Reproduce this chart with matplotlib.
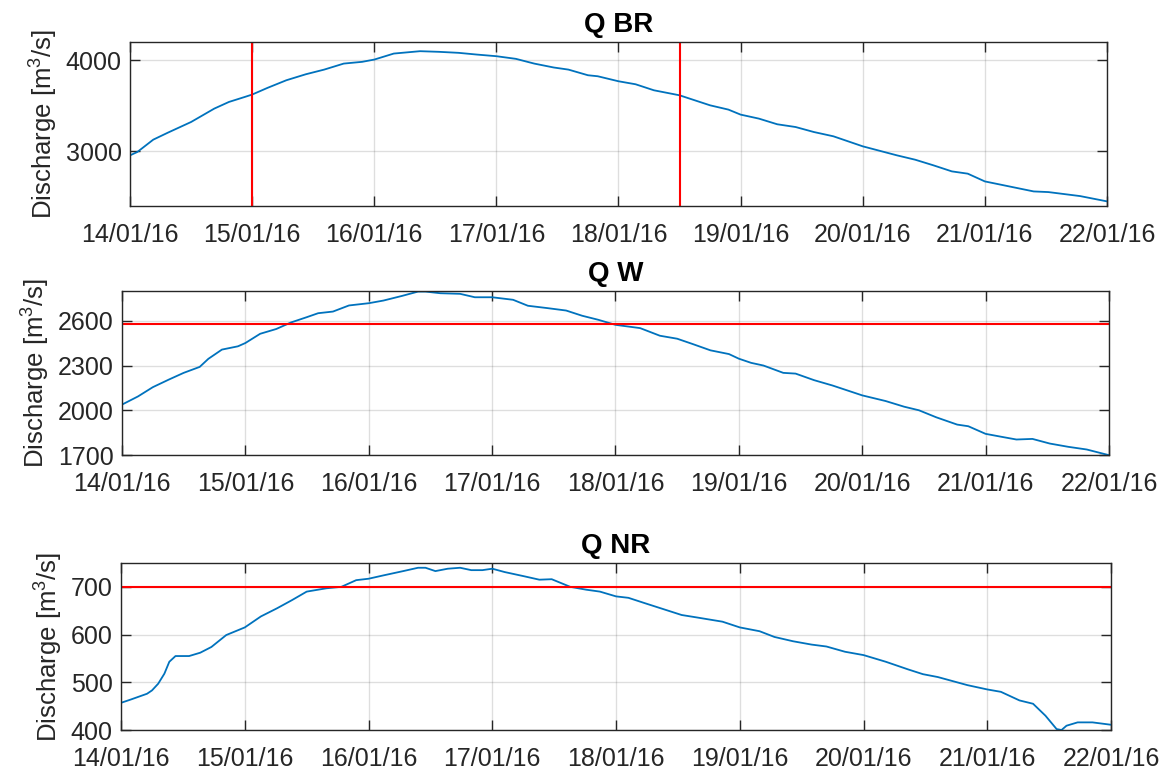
import datetime

import matplotlib
matplotlib.use('Agg')
import matplotlib.pyplot as plt
import matplotlib.dates as mdates
import numpy as np

# days since 14/01/16 00:00 and discharge values
br_days = [0.0, 0.06, 0.19, 0.31, 0.5, 0.69, 0.81, 0.94, 1.0, 1.125, 1.28, 1.44, 1.59,
           1.75, 1.9, 2.0, 2.16, 2.375, 2.53, 2.69, 2.84, 3.0, 3.16, 3.31, 3.47, 3.59,
           3.75, 3.83, 4.0, 4.14, 4.29, 4.5, 4.75, 4.9, 5.0, 5.15, 5.3, 5.45, 5.6, 5.76,
           6.0, 6.28, 6.43, 6.58, 6.73, 6.86, 7.0, 7.16, 7.4, 7.52, 7.78, 8.0]
br_q = [2956, 2993, 3128, 3205, 3322, 3469, 3542, 3597, 3623, 3696, 3780, 3846, 3897,
        3963, 3982, 4007, 4073, 4099, 4092, 4081, 4062, 4044, 4015, 3963, 3920, 3897,
        3835, 3824, 3769, 3736, 3670, 3615, 3505, 3458, 3403, 3359, 3297, 3267, 3212, 3165,
        3055, 2956, 2908, 2846, 2780, 2755, 2670, 2626, 2560, 2553, 2509, 2451]

w_days = [0.0, 0.13, 0.25, 0.38, 0.5, 0.63, 0.7, 0.81, 0.94, 1.0, 1.12, 1.25, 1.37, 1.5,
          1.59, 1.71, 1.84, 2.0, 2.12, 2.27, 2.4, 2.46, 2.58, 2.74, 2.86, 3.0, 3.17, 3.29,
          3.45, 3.6, 3.73, 3.86, 4.0, 4.2, 4.36, 4.5, 4.62, 4.77, 4.92, 5.0, 5.1, 5.2,
          5.36, 5.46, 5.61, 5.76, 6.0, 6.19, 6.34, 6.46, 6.6, 6.77, 6.86, 7.0, 7.13, 7.25,
          7.38, 7.52, 7.67, 7.82, 8.0]
w_q = [2038, 2093, 2155, 2206, 2251, 2291, 2345, 2407, 2429, 2451, 2513, 2545, 2589, 2625,
       2651, 2662, 2703, 2718, 2736, 2767, 2796, 2796, 2785, 2781, 2758, 2758, 2741, 2701,
       2685, 2669, 2634, 2607, 2573, 2551, 2500, 2480, 2446, 2402, 2377, 2346, 2318, 2300,
       2251, 2246, 2202, 2166, 2100, 2062, 2024, 2000, 1953, 1904, 1893, 1842, 1822, 1804,
       1808, 1777, 1755, 1737, 1699]

nr_days = [0.0, 0.08, 0.21, 0.25, 0.3, 0.35, 0.39, 0.44, 0.55, 0.64, 0.73, 0.85, 1.0,
           1.13, 1.26, 1.38, 1.5, 1.66, 1.78, 1.9, 2.0, 2.12, 2.28, 2.4, 2.46, 2.54, 2.64,
           2.74, 2.83, 2.92, 3.0, 3.1, 3.26, 3.38, 3.48, 3.63, 3.76, 3.87, 4.0, 4.1, 4.23,
           4.35, 4.53, 4.65, 4.86, 5.0, 5.16, 5.28, 5.43, 5.58, 5.7, 5.85, 6.0, 6.18, 6.36,
           6.48, 6.6, 6.84, 7.0, 7.11, 7.26, 7.37, 7.47, 7.56, 7.6, 7.64, 7.73, 7.85, 8.0]
nr_q = [457, 464, 476, 483, 497, 518, 543, 555, 555, 562, 574, 599, 615, 638, 655, 672,
        690, 697, 700, 714, 717, 724, 733, 740, 740, 733, 738, 740, 735, 735, 738, 731,
        722, 715, 716, 700, 694, 690, 680, 677, 666, 656, 641, 636, 627, 615, 607, 595,
        586, 579, 575, 564, 557, 543, 527, 517, 511, 494, 485, 480, 462, 455, 430, 402,
        400, 409, 416, 416, 411]

br_event_days = [1.0, 4.5]   # vertical markers in Q BR
w_threshold = 2580
nr_threshold = 700

titles = ['Q BR', 'Q W', 'Q NR']
ylims = [(2400, 4200), (1700, 2800), (400, 750)]
yticks = [[3000, 4000], [1700, 2000, 2300, 2600], [400, 500, 600, 700]]

START = datetime.datetime(2016, 1, 14)
BLUE = '#0072BD'
TXT = '#262626'


def to_dates(days):
    return [START + datetime.timedelta(days=d) for d in days]


def style_axes(ax, title, ylim, ticks):
    ax.set_xlim(START, START + datetime.timedelta(days=8))
    ax.set_ylim(*ylim)
    ax.set_yticks(ticks)
    ax.xaxis.set_major_locator(mdates.DayLocator())
    ax.xaxis.set_major_formatter(mdates.DateFormatter('%d/%m/%y'))
    ax.tick_params(direction='in', length=7, width=1.0, colors=TXT,
                   labelsize=18, top=True, right=True)
    ax.tick_params(axis='x', pad=12)
    ax.tick_params(axis='y', pad=6)
    ax.grid(True, color='#262626', alpha=0.15, linewidth=1.0)
    ax.set_axisbelow(True)
    for s in ax.spines.values():
        s.set_color(TXT)
        s.set_linewidth(1.0)
    ax.set_title(title, fontsize=20, fontweight='bold', pad=7)
    ax.set_ylabel('Discharge [m$^3$/s]', fontsize=18.5, color=TXT, labelpad=4)


def main():
    plt.rcParams['font.family'] = ['Liberation Sans', 'DejaVu Sans']
    plt.rcParams['mathtext.default'] = 'regular'

    fig = plt.figure(figsize=(11.64, 7.69), dpi=100)
    ax1 = fig.add_axes([0.1117, 0.7321, 0.8393, 0.2133])
    ax2 = fig.add_axes([0.1048, 0.4083, 0.8479, 0.2133])
    ax3 = fig.add_axes([0.1040, 0.0507, 0.8505, 0.2172])

    ax1.plot(to_dates(br_days), br_q, color=BLUE, linewidth=1.3)
    for d in br_event_days:
        ax1.axvline(START + datetime.timedelta(days=d), color='red', linewidth=1.5)

    ax2.plot(to_dates(w_days), w_q, color=BLUE, linewidth=1.3)
    ax2.axhline(w_threshold, color='red', linewidth=1.5)

    ax3.plot(to_dates(nr_days), nr_q, color=BLUE, linewidth=1.3)
    ax3.axhline(nr_threshold, color='red', linewidth=1.5)

    for ax, t, yl, yt in zip([ax1, ax2, ax3], titles, ylims, yticks):
        style_axes(ax, t, yl, yt)

    fig.savefig('out.png', dpi=100)


if __name__ == '__main__':
    main()
